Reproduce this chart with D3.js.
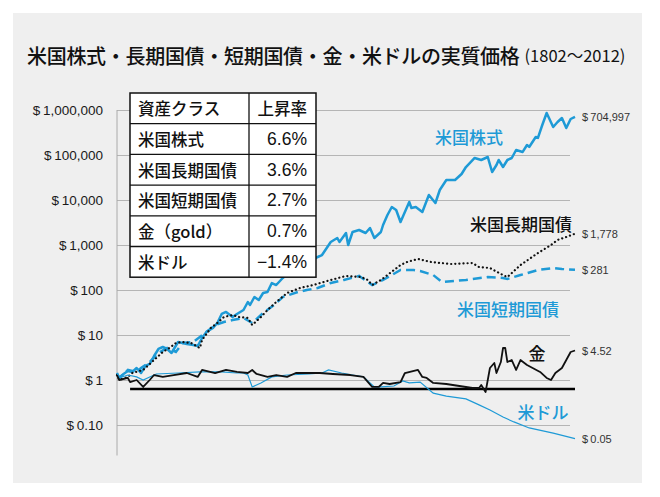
<!DOCTYPE html>
<html><head><meta charset="utf-8">
<script src="https://cdn.jsdelivr.net/npm/d3@7"></script>
<style>body{margin:0;background:#fff}</style>
</head><body><svg id="c" width="660" height="497"></svg>
<script>
// ---- data ----
const stocks = [[1802,1.43],[1803,1.11],[1805,1.36],[1807,1.58],[1809,1.51],[1811,1.85],[1813,1.43],[1815,2.05],[1817,2.27],[1819,3.41],[1821,4.89],[1823,5.41],[1825,4.89],[1827,3.98],[1830,6.99],[1832,6.64],[1834,6.31],[1837,6.0],[1839,5.7],[1841,8.58],[1843,11.7],[1846,14.3],[1848,18.5],[1850,29.3],[1852,32.5],[1855,25.1],[1857,29.3],[1860,35.9],[1862,54.1],[1863,46.4],[1865,69.9],[1867,59.9],[1869,85.8],[1871,90.3],[1873,143],[1875,129],[1878,185],[1881,251],[1886,308],[1890,378],[1893,514],[1896,599],[1900,1166],[1903,1432],[1904,1166],[1907,1848],[1908,1000],[1910,1945],[1913,2154],[1916,1848],[1918,2387],[1920,1432],[1923,1945],[1924,2783],[1926,4642],[1928,6990],[1930,5995],[1932,3245],[1933,4190],[1935,6990],[1936,9030],[1937,6640],[1939,6990],[1942,5410],[1945,12900],[1948,8580],[1950,16700],[1953,27800],[1957,27800],[1960,37800],[1962,54100],[1966,85800],[1969,77400],[1972,90300],[1974,41900],[1976,59900],[1977,77400],[1979,54100],[1981,77400],[1983,85800],[1985,129000],[1988,117000],[1990,167000],[1991,151000],[1994,251000],[1995,239000],[1997,464000],[1999,858000],[2002,419000],[2004,541000],[2006,664000],[2008,398000],[2010,631000],[2012,704997]];
const longBonds = [[1802,1.29],[1803,1.0],[1807,1.17],[1809,1.43],[1814,1.67],[1819,2.78],[1823,4.19],[1826,5.14],[1829,6.64],[1832,6.99],[1836,6.64],[1840,5.14],[1841,7.74],[1845,14.3],[1848,18.5],[1851,25.1],[1855,27.8],[1858,25.1],[1862,23.9],[1864,16.7],[1868,25.1],[1871,35.9],[1875,54.1],[1880,85.8],[1886,111],[1892,129],[1900,167],[1907,205],[1914,194],[1917,167],[1919,129],[1923,167],[1926,215],[1932,359],[1935,419],[1940,489],[1946,419],[1955,378],[1965,398],[1968,324],[1973,308],[1979,215],[1981,194],[1987,359],[1995,664],[2001,1000],[2004,1292],[2008,1506],[2012,1778]];
const shortBonds = [[1802,1.36],[1803,1.11],[1807,1.67],[1811,1.51],[1813,1.85],[1817,2.51],[1821,3.98],[1825,5.14],[1829,4.19],[1832,6.64],[1837,6.99],[1840,9.03],[1843,11.7],[1847,16.7],[1851,19.4],[1855,21.5],[1860,23.9],[1864,18.5],[1869,30.8],[1874,46.4],[1878,69.9],[1885,90.3],[1889,100],[1894,111],[1900,143],[1906,167],[1913,205],[1917,151],[1919,129],[1924,167],[1932,278],[1938,278],[1941,264],[1947,215],[1951,151],[1962,167],[1972,194],[1979,185],[1981,176],[1987,215],[1995,278],[2002,308],[2006,293],[2012,281]];
const gold = [[1802,1.29],[1803,1.0],[1807,1.11],[1808,0.9],[1811,1.0],[1814,0.7],[1817,1.0],[1819,1.29],[1823,1.17],[1828,1.29],[1834,1.43],[1839,1.17],[1841,1.67],[1847,1.43],[1852,1.67],[1857,1.51],[1862,1.43],[1864,1.67],[1866,1.36],[1871,1.17],[1875,1.29],[1880,1.17],[1884,1.43],[1895,1.43],[1901,1.36],[1909,1.29],[1915,1.17],[1919,0.7],[1922,0.7],[1924,0.86],[1927,0.815],[1932,0.9],[1934,1.43],[1940,1.67],[1942,1.17],[1944,1.11],[1947,0.86],[1953,0.815],[1959,0.736],[1965,0.664],[1968,0.664],[1969,0.774],[1971,0.541],[1973,1.85],[1975,2.39],[1976,1.43],[1978,2.51],[1979,5.14],[1980,5.14],[1981,2.51],[1983,2.78],[1985,1.67],[1987,2.78],[1990,2.15],[1996,1.51],[1999,1.11],[2001,1.0],[2003,1.43],[2006,1.85],[2008,2.78],[2010,4.19],[2012,4.52]];
const dollar = [[1802,1.43],[1803,1.11],[1807,1.29],[1811,1.17],[1814,1.0],[1817,1.17],[1820,1.36],[1830,1.43],[1840,1.51],[1850,1.51],[1857,1.43],[1860,1.43],[1862,1.29],[1864,0.7],[1868,0.86],[1873,1.17],[1880,1.29],[1890,1.36],[1896,1.43],[1899,1.67],[1905,1.43],[1910,1.29],[1915,1.17],[1918,0.86],[1920,0.7],[1923,0.7],[1929,0.736],[1933,0.95],[1936,0.86],[1941,0.9],[1947,0.51],[1953,0.44],[1962,0.38],[1968,0.28],[1973,0.215],[1979,0.15],[1984,0.117],[1991,0.086],[2002,0.066],[2012,0.05]];
const baselineYears = [1808, 2012];
const baselineValue = 0.63;

const tickValues = [1e6, 1e5, 1e4, 1e3, 100, 10, 1, 0.1];
const tickLabels = ["$\u20091,000,000","$\u2009100,000","$\u200910,000","$\u20091,000","$\u2009100","$\u200910","$\u20091","$\u20090.10"];

const endLabels = ["$\u2009704,997","$\u20091,778","$\u2009281","$\u20094.52","$\u20090.05"];
const endValues = [704997, 1778, 281, 4.52, 0.05];

const tableHeader = ["資産クラス", "上昇率"];
const assetClasses = ["米国株式", "米国長期国債", "米国短期国債", "金（gold）", "米ドル"];
const growthRates = ["6.6%", "3.6%", "2.7%", "0.7%", "\u22121.4%"];

const titleMain = "米国株式・長期国債・短期国債・金・米ドルの実質価格";
const titleSub = "(1802～2012)";

// ---- drawing ----
const BLUE = "#1e9ad6";
const svg = d3.select("#c");
svg.append("rect").attr("x",13).attr("y",13).attr("width",629).attr("height",470).attr("fill","#efefef");

const x = d3.scaleLinear().domain([1802, 2012]).range([117, 575]);
const y = d3.scaleLog().domain([0.1, 1e6]).range([425, 110]);

const t = svg.append("text").attr("x", 27).attr("y", 55).attr("dominant-baseline","central")
  .attr("font-family","'Noto Sans CJK JP', sans-serif").attr("font-weight",500).attr("fill","#111");
t.append("tspan").attr("font-size",20).attr("letter-spacing",-0.3).text(titleMain);
t.append("tspan").attr("font-size",16.5).attr("font-weight",400).attr("dx",5).text(titleSub);

const axis = d3.axisLeft(y).tickValues(tickValues).tickFormat((d,i)=>tickLabels[i])
  .tickSize(-(570-117)).tickPadding(14);
const g = svg.append("g").attr("transform","translate(117,0)").call(axis);
g.select(".domain").remove();
g.selectAll(".tick line").attr("stroke","#b5b5b5").attr("stroke-width",1);
g.selectAll(".tick text").attr("font-family","'Liberation Sans', Arial, sans-serif").attr("font-size",13.5).attr("fill","#1a1a1a");
svg.append("line").attr("x1",117).attr("x2",117).attr("y1",y(1e6)).attr("y2",y(0.021)).attr("stroke","#aaa");

const line = d3.line().x(d=>x(d[0])).y(d=>y(d[1]));

svg.append("line").attr("x1",x(baselineYears[0])).attr("x2",x(baselineYears[1]))
  .attr("y1",y(baselineValue)).attr("y2",y(baselineValue)).attr("stroke","#000").attr("stroke-width",2.5);

svg.append("path").datum(stocks).attr("d",line).attr("fill","none").attr("stroke",BLUE).attr("stroke-width",2.5).attr("stroke-linejoin","round");
svg.append("path").datum(shortBonds).attr("d",line).attr("fill","none").attr("stroke",BLUE).attr("stroke-width",2.5).attr("stroke-dasharray","9,5");
svg.append("path").datum(longBonds).attr("d",line).attr("fill","none").attr("stroke","#111").attr("stroke-width",2.2).attr("stroke-dasharray","0.1,4").attr("stroke-linecap","round");
svg.append("path").datum(dollar).attr("d",line).attr("fill","none").attr("stroke",BLUE).attr("stroke-width",1.2);
svg.append("path").datum(gold).attr("d",line).attr("fill","none").attr("stroke","#111").attr("stroke-width",1.8).attr("stroke-linejoin","round");

// end labels
svg.selectAll("text.end").data(endValues).enter().append("text").attr("class","end")
  .attr("x",582).attr("y",d=>y(d)).attr("dominant-baseline","central")
  .attr("font-family","'Liberation Sans', Arial, sans-serif").attr("font-size",11).attr("fill","#333")
  .text((d,i)=>endLabels[i]);

// series labels
const labelFont = "'Noto Sans CJK JP', sans-serif";
[["米国株式",469,136,BLUE],["米国長期国債",521,223,"#111"],["米国短期国債",508,308,BLUE],["金",537,352,"#111"],["米ドル",543,411,BLUE]]
.forEach(([txt,lx,ly,c])=>{
  svg.append("text").attr("x",lx).attr("y",ly).attr("text-anchor","middle").attr("dominant-baseline","central")
    .attr("font-family",labelFont).attr("font-size",17).attr("font-weight",500).attr("fill",c).text(txt);
});

// table
const tx0 = 130, tx1 = 316, tmid = 249, ty0 = 93, rowH = 30.7;
const nRows = assetClasses.length + 1;
const tb = svg.append("g");
tb.append("rect").attr("x",tx0).attr("y",ty0).attr("width",tx1-tx0).attr("height",rowH*nRows)
  .attr("fill","#fff").attr("stroke","#111").attr("stroke-width",1.5);
for (let i=1;i<nRows;i++){
  tb.append("line").attr("x1",tx0).attr("x2",tx1).attr("y1",ty0+rowH*i).attr("y2",ty0+rowH*i).attr("stroke","#111").attr("stroke-width",1.3);
}
tb.append("line").attr("x1",tmid).attr("x2",tmid).attr("y1",ty0).attr("y2",ty0+rowH*nRows).attr("stroke","#111").attr("stroke-width",1.3);
const leftCol = [tableHeader[0], ...assetClasses];
const rightCol = [tableHeader[1], ...growthRates];
leftCol.forEach((s,i)=>{
  tb.append("text").attr("x",138).attr("y",ty0+rowH*(i+0.5)).attr("dominant-baseline","central")
    .attr("font-family",labelFont).attr("font-size",16.5).attr("font-weight",500).attr("fill","#111").text(s);
});
rightCol.forEach((s,i)=>{
  tb.append("text").attr("x",307).attr("y",ty0+rowH*(i+0.5)).attr("dominant-baseline","central").attr("text-anchor","end")
    .attr("font-family", i===0 ? labelFont : "'Liberation Sans', Arial, sans-serif").attr("font-weight", i===0?500:400)
    .attr("font-size",i===0?16.5:17.5).attr("fill","#111").text(s);
});
</script></body></html>
